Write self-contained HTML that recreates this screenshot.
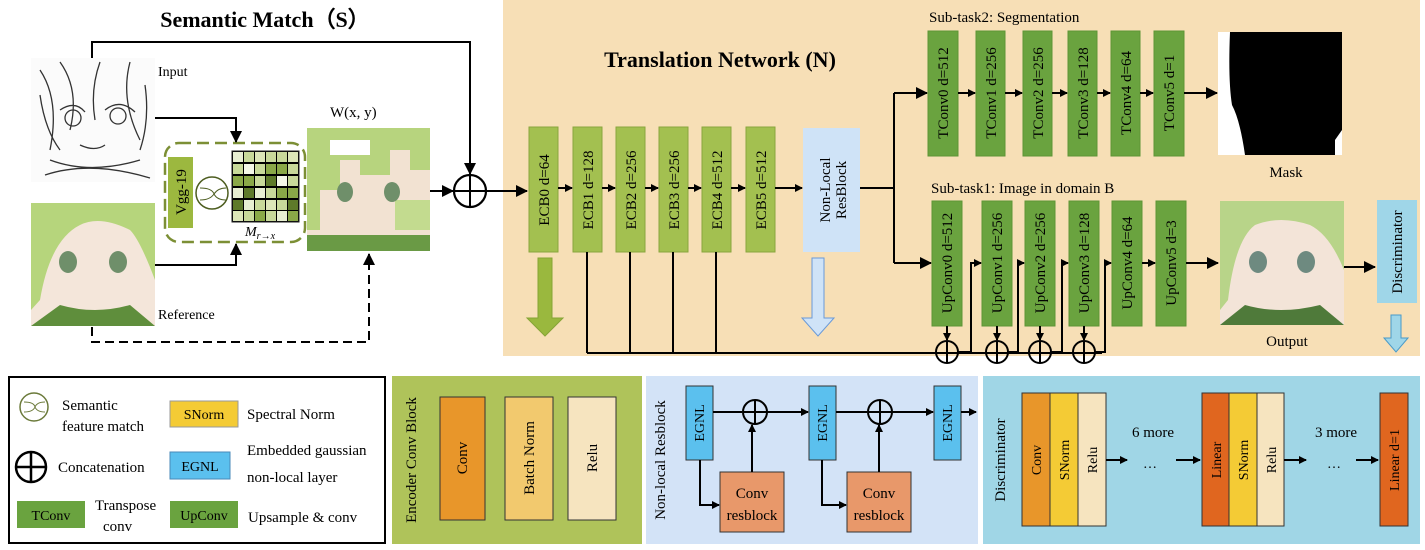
<!DOCTYPE html>
<html><head><meta charset="utf-8"><style>
html,body{margin:0;padding:0;background:#fff;}
svg{display:block;font-family:"Liberation Serif",serif;}
</style></head><body>
<svg width="1425" height="550" viewBox="0 0 1425 550" xmlns="http://www.w3.org/2000/svg">
<defs>
<marker id="ar" markerWidth="8" markerHeight="8" refX="7" refY="4" orient="auto" markerUnits="userSpaceOnUse"><path d="M0,0 L8,4 L0,8 z" fill="#000"/></marker>
<marker id="ars" markerWidth="12" markerHeight="12" refX="11" refY="6" orient="auto" markerUnits="userSpaceOnUse"><path d="M0,0 L12,6 L0,12 z" fill="#000"/></marker>
</defs>
<!-- tan background -->
<rect x="503" y="0" width="917" height="356" fill="#f7dfb6"/>
<text x="265" y="27" font-size="22" font-weight="bold" text-anchor="middle">Semantic Match（S）</text>
<text x="720" y="67" font-size="22" font-weight="bold" text-anchor="middle">Translation Network (N)</text>

<!-- input image -->
<rect x="31" y="58" width="124" height="124" fill="#fbfbfb"/>
<g stroke="#333" stroke-width="1.3" fill="none">
<path d="M40,70 Q60,100 50,150 M60,62 Q80,90 70,130 M100,62 Q90,90 95,120 M130,62 Q120,100 140,140 M60,110 Q75,100 85,112 M105,110 Q120,98 135,112"/>
<circle cx="73" cy="118" r="8"/><circle cx="118" cy="116" r="8"/>
<path d="M80,145 Q95,152 105,145 M50,160 Q90,175 140,160 M45,175 Q90,160 150,178 M40,95 Q45,130 60,150 M145,85 Q150,120 140,150"/>
</g>
<text x="158" y="76" font-size="14">Input</text>

<!-- reference image -->
<rect x="31" y="203" width="124" height="123" fill="#f4e6da"/>
<path d="M31,203 H155 V280 Q140,240 130,230 Q100,215 80,225 Q50,240 40,300 L31,310 z" fill="#b6d57c"/>
<ellipse cx="68" cy="262" rx="9" ry="11" fill="#6f8f6a"/><ellipse cx="118" cy="262" rx="9" ry="11" fill="#6f8f6a"/>
<path d="M31,326 L60,305 Q95,315 130,305 L155,326 z" fill="#5f8e3c"/>
<text x="158" y="319" font-size="14">Reference</text>

<!-- W image -->
<rect x="307" y="128" width="123" height="123" fill="#f2e2d2"/>
<path d="M307,128 H430 V170 H410 V150 H390 V175 H360 V160 H340 V190 H320 V230 H307 z" fill="#b7d47e"/>
<rect x="330" y="140" width="40" height="15" fill="#fff"/><rect x="395" y="200" width="35" height="30" fill="#c3db8f"/>
<ellipse cx="345" cy="192" rx="8" ry="10" fill="#6f8f6a"/><ellipse cx="392" cy="192" rx="8" ry="10" fill="#6f8f6a"/>
<rect x="307" y="235" width="123" height="16" fill="#6a9a45"/>
<text x="330" y="117" font-size="15">W(x, y)</text>

<!-- dashed box -->
<rect x="165" y="143" width="140" height="99" rx="14" fill="none" stroke="#7c8f35" stroke-width="2.5" stroke-dasharray="12,6"/>
<rect x="168" y="157" width="25" height="71" fill="#9cb83f"/>
<text transform="translate(186,192) rotate(-90)" font-size="15" text-anchor="middle">Vgg-19</text>
<circle cx="212" cy="193" r="16" fill="none" stroke="#4d5d20" stroke-width="1.5"/>
<path d="M200,188 Q212,188 214,194 Q217,200 226,200 M200,200 Q210,200 214,194 Q218,188 226,188" fill="none" stroke="#4d5d20" stroke-width="1"/>
<g stroke="#222" stroke-width="1">
<rect x="232" y="151" width="67" height="71" fill="#000"/>
</g>
<g id="grid">
<rect x="233" y="152" width="10" height="10" fill="#e8efd2"/><rect x="244" y="152" width="10" height="10" fill="#c8d99a"/><rect x="255" y="152" width="10" height="10" fill="#dce6b8"/><rect x="266" y="152" width="10" height="10" fill="#c8d99a"/><rect x="277" y="152" width="10" height="10" fill="#c8d99a"/><rect x="288" y="152" width="10" height="10" fill="#dce6b8"/>
<rect x="233" y="164" width="10" height="10" fill="#c8d99a"/><rect x="244" y="164" width="10" height="10" fill="#f4f7e8"/><rect x="255" y="164" width="10" height="10" fill="#c8d99a"/><rect x="266" y="164" width="10" height="10" fill="#8aa848"/><rect x="277" y="164" width="10" height="10" fill="#8aa848"/><rect x="288" y="164" width="10" height="10" fill="#c8d99a"/>
<rect x="233" y="176" width="10" height="10" fill="#8aa848"/><rect x="244" y="176" width="10" height="10" fill="#8aa848"/><rect x="255" y="176" width="10" height="10" fill="#c8d99a"/><rect x="266" y="176" width="10" height="10" fill="#5e7a2a"/><rect x="277" y="176" width="10" height="10" fill="#f4f7e8"/><rect x="288" y="176" width="10" height="10" fill="#c8d99a"/>
<rect x="233" y="188" width="10" height="10" fill="#e8efd2"/><rect x="244" y="188" width="10" height="10" fill="#5e7a2a"/><rect x="255" y="188" width="10" height="10" fill="#e8efd2"/><rect x="266" y="188" width="10" height="10" fill="#c8d99a"/><rect x="277" y="188" width="10" height="10" fill="#8aa848"/><rect x="288" y="188" width="10" height="10" fill="#8aa848"/>
<rect x="233" y="200" width="10" height="10" fill="#5e7a2a"/><rect x="244" y="200" width="10" height="10" fill="#e8efd2"/><rect x="255" y="200" width="10" height="10" fill="#c8d99a"/><rect x="266" y="200" width="10" height="10" fill="#dce6b8"/><rect x="277" y="200" width="10" height="10" fill="#c8d99a"/><rect x="288" y="200" width="10" height="10" fill="#5e7a2a"/>
<rect x="233" y="211" width="10" height="10" fill="#dce6b8"/><rect x="244" y="211" width="10" height="10" fill="#c8d99a"/><rect x="255" y="211" width="10" height="10" fill="#8aa848"/><rect x="266" y="211" width="10" height="10" fill="#c8d99a"/><rect x="277" y="211" width="10" height="10" fill="#e8efd2"/><rect x="288" y="211" width="10" height="10" fill="#8aa848"/>
</g>
<text x="245" y="236" font-size="14" font-style="italic">M<tspan font-size="10" dy="3">r→x</tspan></text>

<!-- semantic connectors -->
<g stroke="#000" stroke-width="2" fill="none">
<path d="M92,58 V42 H470 V174" marker-end="url(#ars)"/>
<path d="M155,118 H236 V142" marker-end="url(#ars)"/>
<path d="M155,265 H236 V244" marker-end="url(#ars)"/>
<path d="M92,327 V342 H369 V254" stroke-dasharray="9,5" marker-end="url(#ars)"/>
<path d="M430,191 H453" marker-end="url(#ars)"/>
<circle cx="470" cy="191" r="16" stroke-width="2.2"/>
<path d="M454,191 H486 M470,175 V207"/>
<path d="M486,191 H527" marker-end="url(#ars)"/>
</g>

<!-- ECB blocks -->
<g fill="#a3c050" stroke="#8aa63e" stroke-width="1">
<rect x="529" y="127" width="29" height="125"/><rect x="573" y="127" width="29" height="125"/><rect x="616" y="127" width="29" height="125"/><rect x="659" y="127" width="29" height="125"/><rect x="702" y="127" width="29" height="125"/><rect x="746" y="127" width="29" height="125"/>
</g>
<rect x="803" y="128" width="57" height="124" fill="#cfe3f7"/>
<g font-size="15" text-anchor="middle">
<text transform="translate(549,190) rotate(-90)">ECB0 d=64</text>
<text transform="translate(593,190) rotate(-90)">ECB1 d=128</text>
<text transform="translate(636,190) rotate(-90)">ECB2 d=256</text>
<text transform="translate(679,190) rotate(-90)">ECB3 d=256</text>
<text transform="translate(722,190) rotate(-90)">ECB4 d=512</text>
<text transform="translate(766,190) rotate(-90)">ECB5 d=512</text>
<text transform="translate(830,190) rotate(-90)">Non-Local</text>
<text transform="translate(846,190) rotate(-90)">ResBlock</text>
</g>
<g stroke="#000" stroke-width="2" fill="none">
<path d="M558,188 H572" marker-end="url(#ar)"/><path d="M602,188 H615" marker-end="url(#ar)"/><path d="M645,188 H658" marker-end="url(#ar)"/><path d="M688,188 H701" marker-end="url(#ar)"/><path d="M731,188 H745" marker-end="url(#ar)"/><path d="M775,188 H802" marker-end="url(#ar)"/>
<path d="M860,188 H894 M894,93 V263"/>
<path d="M894,93 H927" marker-end="url(#ars)"/>
<path d="M894,263 H931" marker-end="url(#ars)"/>
</g>
<!-- big arrows -->
<path d="M538,258 H552 V318 H563 L545,336 L527,318 H538 z" fill="#9ab83e" stroke="#86a436"/>
<path d="M812,258 H824 V318 H834 L818,336 L802,318 H812 z" fill="#cfe3f7" stroke="#6a9ad8"/>

<!-- TConv -->
<text x="929" y="22" font-size="15">Sub-task2: Segmentation</text>
<g fill="#6aa33f" stroke="#5e9436"><rect x="928" y="31" width="30" height="125"/><rect x="976" y="31" width="29" height="125"/><rect x="1023" y="31" width="29" height="125"/><rect x="1068" y="31" width="29" height="125"/><rect x="1111" y="31" width="29" height="125"/><rect x="1154" y="31" width="30" height="125"/></g>
<g font-size="15" text-anchor="middle">
<text transform="translate(948,93) rotate(-90)">TConv0 d=512</text>
<text transform="translate(996,93) rotate(-90)">TConv1 d=256</text>
<text transform="translate(1043,93) rotate(-90)">TConv2 d=256</text>
<text transform="translate(1088,93) rotate(-90)">TConv3 d=128</text>
<text transform="translate(1131,93) rotate(-90)">TConv4 d=64</text>
<text transform="translate(1174,93) rotate(-90)">TConv5 d=1</text>
</g>
<g stroke="#000" stroke-width="2" fill="none">
<path d="M958,93 H975" marker-end="url(#ar)"/><path d="M1005,93 H1022" marker-end="url(#ar)"/><path d="M1052,93 H1067" marker-end="url(#ar)"/><path d="M1097,93 H1110" marker-end="url(#ar)"/><path d="M1140,93 H1153" marker-end="url(#ar)"/><path d="M1184,93 H1217" marker-end="url(#ars)"/>
</g>
<rect x="1218" y="32" width="124" height="123" fill="#fff"/>
<path d="M1230,32 H1342 V130 L1335,140 V155 H1245 Q1240,120 1232,105 Q1228,80 1230,32 z" fill="#000"/>
<text x="1286" y="177" font-size="15" text-anchor="middle">Mask</text>

<!-- UpConv -->
<text x="931" y="193" font-size="15">Sub-task1: Image in domain B</text>
<g fill="#6aa33f" stroke="#5e9436"><rect x="932" y="201" width="30" height="125"/><rect x="982" y="201" width="30" height="125"/><rect x="1025" y="201" width="30" height="125"/><rect x="1069" y="201" width="30" height="125"/><rect x="1112" y="201" width="30" height="125"/><rect x="1156" y="201" width="30" height="125"/></g>
<g font-size="15" text-anchor="middle">
<text transform="translate(952,263) rotate(-90)">UpConv0 d=512</text>
<text transform="translate(1002,263) rotate(-90)">UpConv1 d=256</text>
<text transform="translate(1045,263) rotate(-90)">UpConv2 d=256</text>
<text transform="translate(1089,263) rotate(-90)">UpConv3 d=128</text>
<text transform="translate(1132,263) rotate(-90)">UpConv4 d=64</text>
<text transform="translate(1176,263) rotate(-90)">UpConv5 d=3</text>
</g>
<g stroke="#000" stroke-width="2" fill="none">
<path d="M1142,263 H1155" marker-end="url(#ar)"/><path d="M1186,263 H1218" marker-end="url(#ars)"/>
<path d="M587,252 V353 M630,252 V353 M673,252 V353 M716,252 V353 M587,353 H1102"/>
<path d="M947,326 V340" marker-end="url(#ar)"/><path d="M997,326 V340" marker-end="url(#ar)"/><path d="M1040,326 V340" marker-end="url(#ar)"/><path d="M1084,326 V340" marker-end="url(#ar)"/>
<circle cx="947" cy="352" r="11"/><circle cx="997" cy="352" r="11"/><circle cx="1040" cy="352" r="11"/><circle cx="1084" cy="352" r="11"/>
<path d="M947,341 V363 M997,341 V363 M1040,341 V363 M1084,341 V363"/>
<path d="M958,352 H971 V263 H981" marker-end="url(#ar)"/>
<path d="M1008,352 H1018 V263 H1024" marker-end="url(#ar)"/>
<path d="M1051,352 H1062 V263 H1068" marker-end="url(#ar)"/>
<path d="M1095,352 H1105 V263 H1111" marker-end="url(#ar)"/>
<path d="M1344,267 H1375" marker-end="url(#ars)"/>
</g>
<!-- output image -->
<rect x="1220" y="201" width="124" height="124" fill="#f3e4d8"/>
<path d="M1220,201 H1344 V270 Q1330,235 1310,225 Q1280,215 1255,225 Q1235,240 1228,300 L1220,310 z" fill="#b8d489"/>
<ellipse cx="1258" cy="262" rx="9" ry="11" fill="#6e8a80"/><ellipse cx="1306" cy="262" rx="9" ry="11" fill="#6e8a80"/>
<path d="M1220,325 L1245,305 Q1280,315 1320,305 L1344,325 z" fill="#4f7a3a"/>
<text x="1287" y="346" font-size="15" text-anchor="middle">Output</text>
<rect x="1377" y="200" width="40" height="103" fill="#9fd6e8"/>
<text transform="translate(1402,252) rotate(-90)" font-size="15" text-anchor="middle">Discriminator</text>
<path d="M1391,315 H1401 V338 H1408 L1396,352 L1384,338 H1391 z" fill="#9fd6e8" stroke="#4a9ac8"/>

<!-- legend -->
<rect x="9" y="377" width="376" height="166" fill="#fff" stroke="#000" stroke-width="2"/>
<circle cx="34" cy="407" r="14" fill="none" stroke="#6b7a3a" stroke-width="1.5"/>
<path d="M24,402 Q34,402 35,407 Q37,412 45,412 M24,412 Q33,412 35,407 Q37,402 45,402" fill="none" stroke="#6b7a3a"/>
<text x="62" y="410" font-size="15">Semantic</text><text x="62" y="431" font-size="15">feature match</text>
<rect x="170" y="401" width="68" height="26" fill="#f4cb35" stroke="#999"/><text x="204" y="419" font-size="14" text-anchor="middle">SNorm</text>
<text x="247" y="419" font-size="15">Spectral Norm</text>
<circle cx="31" cy="467" r="15" fill="none" stroke="#000" stroke-width="2.5"/><path d="M16,467 H46 M31,452 V482" stroke="#000" stroke-width="2.5"/>
<text x="58" y="472" font-size="15">Concatenation</text>
<rect x="170" y="452" width="60" height="27" fill="#5bc0ee" stroke="#4a8ab8"/><text x="200" y="471" font-size="14" text-anchor="middle">EGNL</text>
<text x="247" y="455" font-size="15">Embedded gaussian</text><text x="247" y="482" font-size="15">non-local layer</text>
<rect x="17" y="501" width="68" height="27" fill="#6aa33f"/><text x="51" y="520" font-size="14" text-anchor="middle">TConv</text>
<text x="95" y="510" font-size="15">Transpose</text><text x="103" y="531" font-size="15">conv</text>
<rect x="170" y="501" width="68" height="27" fill="#6aa33f"/><text x="204" y="520" font-size="14" text-anchor="middle">UpConv</text>
<text x="248" y="522" font-size="15">Upsample &amp; conv</text>

<!-- encoder panel -->
<rect x="392" y="376" width="250" height="168" fill="#afc35a"/>
<text transform="translate(416,460) rotate(-90)" font-size="15" text-anchor="middle">Encoder Conv Block</text>
<rect x="440" y="397" width="45" height="123" fill="#e8962a" stroke="#333"/>
<rect x="505" y="397" width="48" height="123" fill="#f2c96e" stroke="#333"/>
<rect x="568" y="397" width="48" height="123" fill="#f6e4bf" stroke="#333"/>
<g font-size="15" text-anchor="middle">
<text transform="translate(467,458) rotate(-90)">Conv</text>
<text transform="translate(534,458) rotate(-90)">Batch Norm</text>
<text transform="translate(597,458) rotate(-90)">Relu</text>
</g>

<!-- non-local panel -->
<rect x="646" y="376" width="332" height="168" fill="#d3e3f7"/>
<text transform="translate(665,460) rotate(-90)" font-size="15" text-anchor="middle">Non-local Resblock</text>
<g fill="#5bc0ee" stroke="#333"><rect x="686" y="386" width="27" height="74"/><rect x="809" y="386" width="27" height="74"/><rect x="934" y="386" width="27" height="74"/></g>
<g font-size="14" text-anchor="middle"><text transform="translate(704,423) rotate(-90)">EGNL</text><text transform="translate(827,423) rotate(-90)">EGNL</text><text transform="translate(952,423) rotate(-90)">EGNL</text></g>
<g fill="#e8986a" stroke="#333"><rect x="720" y="472" width="64" height="60"/><rect x="847" y="472" width="64" height="60"/></g>
<text x="752" y="498" font-size="15" text-anchor="middle">Conv</text><text x="752" y="520" font-size="15" text-anchor="middle">resblock</text>
<text x="879" y="498" font-size="15" text-anchor="middle">Conv</text><text x="879" y="520" font-size="15" text-anchor="middle">resblock</text>
<g stroke="#000" stroke-width="2" fill="none">
<path d="M713,412 H742" /><circle cx="755" cy="412" r="12"/><path d="M743,412 H767 M755,400 V424"/>
<path d="M767,412 H808" marker-end="url(#ar)"/>
<path d="M836,412 H867"/><circle cx="880" cy="412" r="12"/><path d="M868,412 H892 M880,400 V424"/>
<path d="M892,412 H933" marker-end="url(#ar)"/><path d="M961,412 H976" marker-end="url(#ar)"/>
<path d="M700,460 V505 H719" marker-end="url(#ar)"/><path d="M752,472 V425" marker-end="url(#ar)"/>
<path d="M822,460 V505 H846" marker-end="url(#ar)"/><path d="M879,472 V425" marker-end="url(#ar)"/>
</g>

<!-- discriminator panel -->
<rect x="983" y="376" width="437" height="168" fill="#a0d6e6"/>
<text transform="translate(1005,460) rotate(-90)" font-size="15" text-anchor="middle">Discriminator</text>
<rect x="1022" y="393" width="28" height="133" fill="#e8962a" stroke="#333"/>
<rect x="1050" y="393" width="28" height="133" fill="#f4cb35" stroke="#333"/>
<rect x="1078" y="393" width="28" height="133" fill="#f6e4bf" stroke="#333"/>
<rect x="1202" y="393" width="27" height="133" fill="#e0661f" stroke="#333"/>
<rect x="1229" y="393" width="28" height="133" fill="#f4cb35" stroke="#333"/>
<rect x="1257" y="393" width="27" height="133" fill="#f6e4bf" stroke="#333"/>
<rect x="1380" y="393" width="28" height="133" fill="#e0661f" stroke="#333"/>
<g font-size="14" text-anchor="middle">
<text transform="translate(1041,460) rotate(-90)">Conv</text><text transform="translate(1069,460) rotate(-90)">SNorm</text><text transform="translate(1097,460) rotate(-90)">Relu</text>
<text transform="translate(1221,460) rotate(-90)">Linear</text><text transform="translate(1248,460) rotate(-90)">SNorm</text><text transform="translate(1276,460) rotate(-90)">Relu</text>
<text transform="translate(1399,460) rotate(-90)">Linear d=1</text>
</g>
<text x="1153" y="437" font-size="15" text-anchor="middle">6 more</text>
<text x="1336" y="437" font-size="15" text-anchor="middle">3 more</text>
<text x="1150" y="468" font-size="14" text-anchor="middle">…</text>
<text x="1334" y="468" font-size="14" text-anchor="middle">…</text>
<g stroke="#000" stroke-width="2" fill="none">
<path d="M1106,460 H1127" marker-end="url(#ar)"/><path d="M1176,460 H1200" marker-end="url(#ar)"/>
<path d="M1284,460 H1306" marker-end="url(#ar)"/><path d="M1356,460 H1378" marker-end="url(#ar)"/>
</g>
</svg>
</body></html>
